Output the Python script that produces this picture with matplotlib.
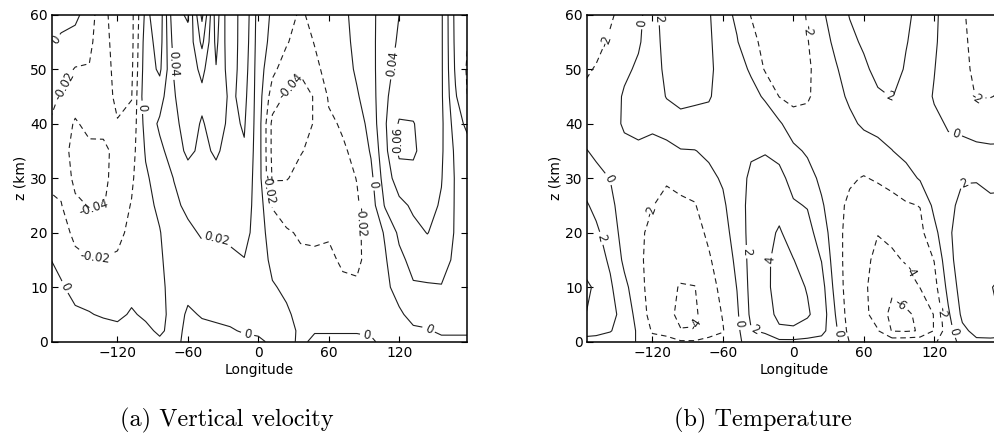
import numpy as np
import matplotlib
matplotlib.use("Agg")
import matplotlib.pyplot as plt

plt.rcParams['font.family'] = ['DejaVu Sans']
plt.rcParams['contour.negative_linestyle'] = 'dashed'
plt.rcParams['lines.dashed_pattern'] = [5.0, 3.5]

# ─── Grid of the two fields ───────────────────────────────────────────────────

LON = [-180, -168, -156, -144, -132, -120, -108, -96, -84, -72, -60, -48, -36,
       -24, -12, 0, 12, 24, 36, 48, 60, 72, 84, 96, 108, 120, 132, 144, 156,
       168, 180]
Z_KM = [0, 2, 5, 10, 15, 20, 25, 30, 35, 40, 45, 50, 55, 60]

# vertical velocity, one row per longitude, heights as Z_KM (units of 0.01)
W_ROWS = [
    [1.0, 0.9, 0.8, 0.6, 0.2, -0.6, -1.6, -2.3, -2.6, -1.9, -1.6, -0.8, 0.2, 0.5],
    [1.0, 0.9, 0.6, 0.2, -0.5, -1.3, -1.9, -2.6, -3.3, -3.0, -2.1, -1.3, -0.2, 0.4],
    [1.0, 0.8, 0.3, -0.6, -1.6, -2.4, -3.6, -4.5, -4.6, -4.2, -3.2, -2.1, -0.8, 0.5],
    [1.0, 0.6, 0.1, -0.8, -1.9, -2.9, -4.1, -4.6, -4.4, -3.5, -2.4, -2.1, -1.6, -1.0],
    [1.0, 0.7, -0.2, -1.0, -1.9, -3.2, -4.1, -4.4, -4.3, -3.6, -3.2, -3.0, -3.2, -3.5],
    [1.0, 0.5, -0.4, -1.2, -1.8, -2.4, -2.9, -3.3, -3.6, -3.9, -4.4, -4.8, -5.0, -5.0],
    [1.2, 0.9, 0.2, -0.6, -1.1, -1.6, -1.9, -2.3, -2.8, -3.4, -4.1, -4.4, -4.6, -4.6],
    [0.8, 0.4, -0.3, -0.8, -0.9, -0.8, -0.6, -0.3, 0.2, 0.8, 1.5, 1.2, 1.0, 0.5],
    [0.3, -0.3, -0.6, -0.5, -0.3, -0.1, 0.4, 0.9, 1.6, 2.3, 1.2, -0.4, -0.9, -1.2],
    [0.5, 0.6, 0.7, 0.8, 1.0, 1.3, 1.6, 2.05, 2.8, 3.4, 3.8, 4.1, 4.8, 5.5],
    [-0.5, -0.4, -0.2, 0.4, 1.0, 1.6, 2.4, 3.0, 4.5, 5.0, 5.5, 5.2, 5.5, 6.2],
    [-0.5, -0.3, 0.1, 0.9, 1.4, 2.2, 2.8, 3.2, 3.5, 3.8, 4.5, 3.5, 1.5, -0.5],
    [-0.5, -0.2, 0.2, 1.0, 1.6, 2.1, 2.6, 3.4, 4.3, 5.0, 5.5, 5.9, 6.5, 7.0],
    [-0.4, -0.1, 0.3, 1.0, 1.7, 2.3, 2.6, 2.9, 3.2, 3.5, 3.6, 3.0, 2.5, 2.2],
    [-0.3, 0.1, 0.6, 1.2, 1.95, 2.5, 3.0, 3.4, 3.8, 4.2, 4.6, 5.0, 5.3, 5.5],
    [-0.3, 0.3, 0.8, 1.2, 1.4, 1.3, 1.1, 1.0, 1.0, 1.0, 1.0, 1.0, 1.1, 1.2],
    [0.3, 0.5, 0.6, 0.2, -0.6, -1.3, -2.1, -4.2, -4.5, -4.5, -3.0, -1.5, -0.6, -0.3],
    [0.5, 0.6, 0.3, -0.4, -1.2, -1.8, -2.9, -4.1, -4.7, -4.8, -4.3, -3.0, -1.8, -1.2],
    [-0.3, -0.3, -0.6, -1.1, -1.7, -2.2, -2.8, -3.5, -4.1, -4.6, -4.6, -3.8, -3.0, -2.3],
    [0.3, -0.1, -0.5, -1.2, -1.8, -2.2, -2.8, -3.2, -3.6, -3.9, -3.9, -2.5, -1.9, -1.4],
    [0.3, -0.1, -0.4, -1.0, -1.6, -2.2, -2.5, -2.7, -2.6, -2.3, -1.8, -1.3, -0.9, -0.6],
    [0.3, -0.1, -0.8, -1.6, -2.3, -2.5, -2.6, -2.6, -2.2, -1.8, -1.3, -0.9, -0.6, -0.4],
    [0.3, -0.1, -0.9, -1.8, -2.3, -2.3, -2.2, -1.95, -1.6, -1.1, -0.2, 0.3, 0.5, 0.6],
    [0.2, -0.2, -0.6, -1.1, -1.4, -1.3, -1.0, -0.5, 0.2, 0.8, 1.1, 1.3, 1.4, 1.5],
    [-0.4, -0.4, -0.4, -0.3, -0.2, 0.2, 2.2, 3.0, 3.5, 3.8, 3.7, 3.5, 3.3, 3.0],
    [-0.5, -0.3, -0.2, 0.5, 1.5, 2.4, 3.5, 5.0, 6.4, 6.2, 5.0, 4.5, 4.2, 4.0],
    [-0.5, -0.2, 0.4, 1.8, 2.6, 3.5, 4.3, 5.4, 6.3, 6.1, 5.0, 4.6, 4.3, 4.1],
    [-0.4, -0.1, 0.5, 1.8, 3.0, 4.05, 4.6, 5.0, 5.1, 5.0, 4.6, 4.3, 4.1, 4.0],
    [-0.3, 0.2, 0.7, 1.9, 2.8, 3.4, 3.8, 4.1, 4.3, 4.4, 4.3, 4.3, 4.3, 4.3],
    [-0.3, 0.2, 0.6, 1.3, 1.6, 1.8, 1.8, 1.8, 1.6, 1.0, 0.2, -0.3, -0.5, -0.6],
    [-0.3, 0.2, 0.4, 0.6, 0.8, 0.9, 1.0, 1.0, 0.6, -0.8, -2.4, -2.6, -2.2, -1.6],
]

# temperature (K), one row per longitude, heights as Z_KM
T_ROWS = [
    [1.6, 2.5, 4.3, 4.6, 3.5, 3.0, 2.4, 1.6, 0.3, -0.8, -1.8, -2.3, -2.7, -3.0],
    [1.5, 2.4, 3.2, 3.7, 2.9, 2.3, 1.6, 0.6, -0.4, -1.0, -1.5, -1.9, -2.4, -2.8],
    [1.2, 2.1, 2.6, 2.3, 1.7, 1.2, 0.6, -0.05, -0.6, -0.9, -1.2, -1.5, -1.8, -2.2],
    [0.8, 1.2, 1.3, 0.5, -0.4, -0.9, -1.2, -1.2, -0.6, 0.3, 0.3, -0.5, -1.0, -1.5],
    [-0.2, -0.3, -0.8, -1.2, -1.5, -1.6, -1.5, -1.1, -0.4, 0.6, 0.9, 0.4, -0.3, -0.7],
    [-1.4, -2.2, -2.8, -3.0, -2.9, -2.5, -1.95, -1.3, -0.5, 0.3, 0.9, 1.2, 1.4, 1.6],
    [-1.6, -2.4, -3.4, -3.6, -3.4, -3.0, -2.5, -1.8, -0.6, 0.9, 2.1, 2.4, 2.5, 2.5],
    [-1.8, -3.9, -4.5, -4.1, -3.4, -2.9, -2.3, -1.5, -0.1, 1.3, 2.6, 3.0, 3.2, 3.3],
    [-1.8, -3.9, -4.3, -4.05, -3.1, -2.6, -2.1, -1.3, -0.05, 1.2, 2.4, 3.0, 3.2, 3.3],
    [-1.6, -2.6, -3.0, -2.7, -2.2, -1.7, -1.1, -0.4, 0.3, 1.2, 2.2, 2.4, 2.3, 2.2],
    [-1.4, -2.1, -1.9, -1.5, -1.1, -0.7, -0.3, 0.2, 0.6, 0.9, 1.1, 1.2, 1.0, 0.6],
    [-0.6, -0.5, -0.3, 0.05, 0.4, 0.8, 1.1, 1.3, 1.4, 1.3, 1.0, 0.6, 0.1, -0.3],
    [1.2, 1.9, 2.4, 2.6, 2.7, 2.7, 2.6, 2.3, 1.8, 1.2, 0.5, -0.2, -1.2, -2.1],
    [1.4, 2.2, 3.0, 3.4, 3.5, 3.4, 3.1, 2.6, 1.9, 0.9, -0.2, -2.2, -2.8, -3.2],
    [1.6, 3.6, 4.6, 5.0, 4.8, 4.2, 3.4, 2.5, 1.5, 0.3, -2.05, -3.0, -3.4, -3.6],
    [1.6, 3.7, 4.7, 4.5, 4.05, 3.2, 2.2, 1.4, 0.5, -1.2, -2.5, -3.0, -3.2, -3.3],
    [1.4, 3.3, 4.2, 3.9, 3.2, 2.6, 1.9, 0.9, -0.3, -1.4, -2.2, -2.3, -2.1, -1.8],
    [1.2, 2.7, 3.2, 2.8, 1.95, 1.2, 0.3, -0.5, -0.9, -1.2, -1.3, -1.2, -0.8, -0.3],
    [0.6, 0.4, -0.05, -0.7, -1.1, -1.4, -1.5, -1.5, -1.3, -1.0, -0.6, -0.2, 0.4, 0.8],
    [-2.1, -2.7, -3.0, -3.1, -2.9, -2.6, -2.3, -1.8, -1.2, -0.4, 0.3, 0.9, 1.5, 2.1],
    [-2.4, -3.2, -3.6, -3.7, -3.6, -3.3, -2.8, -2.1, -1.0, 0.3, 1.0, 1.6, 2.3, 2.8],
    [-2.6, -3.9, -4.7, -4.8, -4.4, -3.95, -2.9, -1.8, -0.6, 0.6, 1.7, 2.6, 3.2, 3.6],
    [-2.9, -6.1, -6.6, -5.6, -4.4, -3.5, -2.5, -1.5, -0.05, 1.0, 2.05, 2.8, 3.4, 3.8],
    [-2.8, -6.2, -6.3, -5.0, -3.8, -3.0, -2.2, -0.8, 0.6, 1.2, 1.5, 1.8, 2.1, 2.4],
    [-2.6, -5.9, -5.6, -3.95, -3.2, -2.5, -1.95, 0.2, 0.8, 1.1, 1.2, 1.3, 1.3, 1.4],
    [-2.2, -3.9, -3.9, -2.7, -1.95, -0.6, 0.5, 1.0, 1.1, 0.5, -0.2, 0.1, 0.5, 0.8],
    [-1.2, -0.8, -0.3, 0.6, 1.4, 1.7, 1.6, 1.2, 0.5, -0.2, -1.0, -1.6, -1.7, -1.9],
    [0.8, 1.6, 2.4, 2.9, 3.0, 2.9, 2.4, 1.9, 0.6, -0.5, -1.0, -1.4, -1.5, -1.7],
    [1.7, 2.5, 3.4, 3.8, 3.6, 3.1, 2.5, 1.9, 0.4, -0.8, -2.1, -2.5, -2.8, -3.0],
    [1.7, 2.6, 3.6, 3.9, 3.6, 3.0, 2.4, 1.5, 0.3, -0.9, -2.05, -2.6, -2.9, -3.1],
    [1.6, 2.5, 4.3, 4.6, 3.5, 3.0, 2.4, 1.6, 0.3, -0.8, -1.8, -2.3, -2.7, -3.0],
]

W_LEVELS = [-0.06, -0.04, -0.02, 0, 0.02, 0.04, 0.06, 0.08]
T_LEVELS = [-8, -6, -4, -2, 0, 2, 4, 6]

X_TICKS = [-120, -60, 0, 60, 120]
Y_TICKS = [0, 10, 20, 30, 40, 50, 60]
CAPTIONS = ['(a) Vertical velocity', '(b) Temperature']

# where the contour labels sit (lon, z)
W_LABEL_POS = [(-165, 10), (-140, 12), (-140, 24), (-166, 47), (-99, 43),
               (-36, 18.6), (-9, 1.6), (10, 28), (27, 47), (86, 22),
               (101, 29), (92, 0.8), (146, 2.6), (125, 37), (116, 51),
               (-70, 51), (-170, 55)]
T_LABEL_POS = [(-157, 55), (-126, 58.5), (-156, 30), (-163, 19), (-122, 24),
               (-80, 3), (-40, 16.5), (-45, 3.4), (-31, 2.7), (-22, 15),
               (40, 1.6), (101, 13), (93, 7.3), (128, 5.4), (138, 2),
               (138, 38), (145, 30), (156, 44), (79, 44), (11, 57),
               (-94, 59.5)]

LINE_COLOR = '#1e1e1e'


def fmt(v):
    return f'{v:g}'


def draw(ax, field, levels, label_pos):
    cs = ax.contour(LON, Z_KM, field, levels=levels, colors=LINE_COLOR,
                    linewidths=0.8)
    ax.clabel(cs, manual=label_pos, fmt=fmt, fontsize=8.5, inline=True,
              inline_spacing=3)
    ax.set_xlim(-176, 177.5)
    ax.set_ylim(0, 60)
    ax.set_xticks(X_TICKS)
    ax.set_yticks(Y_TICKS)
    ax.tick_params(direction='in', top=True, right=True, length=4,
                   width=0.8, labelsize=10, pad=3)
    for sp in ax.spines.values():
        sp.set_linewidth(1.1)
    ax.set_xlabel('Longitude', fontsize=10, labelpad=2.5)
    ax.set_ylabel('z (km)', fontsize=10, labelpad=2)


W = np.array(W_ROWS).T * 0.01
T = np.array(T_ROWS).T

fig = plt.figure(figsize=(9.95, 4.34), dpi=100)
ax_a = fig.add_axes([0.052, 0.2127, 0.417, 0.7535])
ax_b = fig.add_axes([0.5897, 0.2127, 0.417, 0.7535])

draw(ax_a, W, W_LEVELS, W_LABEL_POS)
draw(ax_b, T, T_LEVELS, T_LABEL_POS)

fig.text(0.228, 0.032, CAPTIONS[0], family='cmr10', fontsize=17.5,
         ha='center', va='center')
fig.text(0.767, 0.032, CAPTIONS[1], family='cmr10', fontsize=17.5,
         ha='center', va='center')

fig.savefig('out.png', dpi=100)
